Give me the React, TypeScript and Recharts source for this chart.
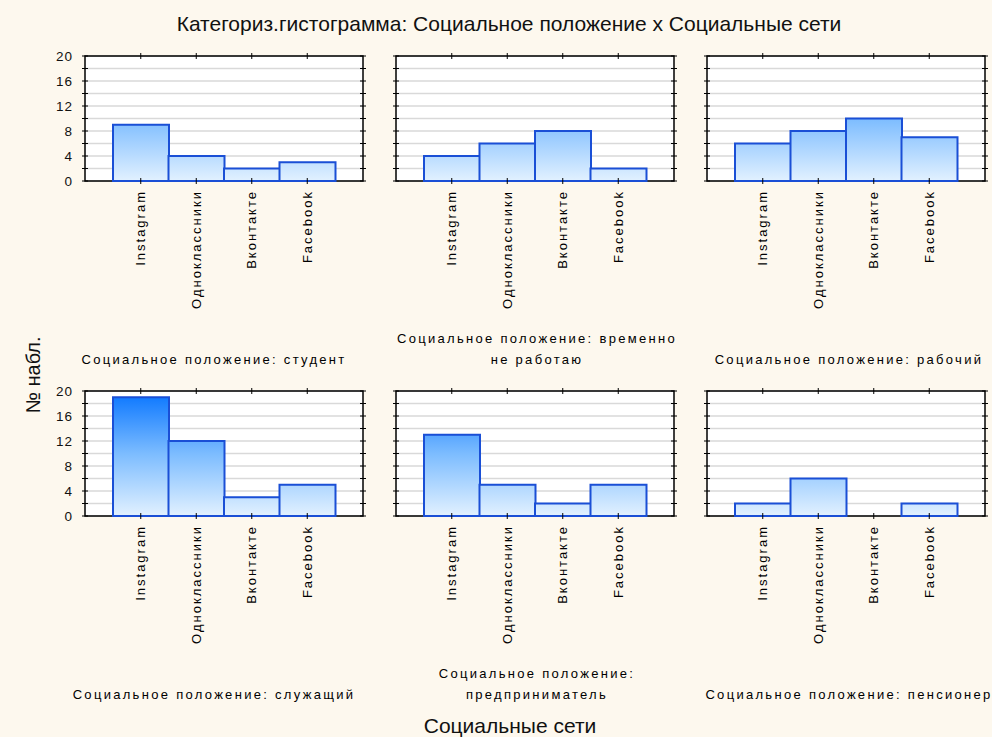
import React from "react"
import { BarChart, Bar, XAxis, YAxis, CartesianGrid } from "recharts"

const categories = ["Instagram", "Одноклассники", "Вконтакте", "Facebook"]
const yTicks = [0, 2, 4, 6, 8, 10, 12, 14, 16, 18, 20]

const studentCounts = [9, 4, 2, 3]
const unemployedCounts = [4, 6, 8, 2]
const workerCounts = [6, 8, 10, 7]
const employeeCounts = [19, 12, 3, 5]
const entrepreneurCounts = [13, 5, 2, 5]
const pensionerCounts = [2, 6, 0, 2]

const panelTitles = [
  ["Социальное положение: студент"],
  ["Социальное положение: временно", "не работаю"],
  ["Социальное положение: рабочий"],
  ["Социальное положение: служащий"],
  ["Социальное положение:", "предприниматель"],
  ["Социальное положение: пенсионер"],
]
const panelCounts = [
  studentCounts,
  unemployedCounts,
  workerCounts,
  employeeCounts,
  entrepreneurCounts,
  pensionerCounts,
]

// layout
const PLOT_W = 278
const PLOT_H = 125
const M_LEFT = 45
const M_TOP = 10
const CHART_W = M_LEFT + PLOT_W + 10
const CHART_H = M_TOP + PLOT_H + 150
const PLOT_LEFTS = [85, 396, 707]
const PLOT_TOPS = [56, 391]
const TITLE_CENTERS = [214, 537, 849]
const TITLE_BOTTOMS = [370, 705]

const BG = "#fdf8ee"
const SMALL_FONT = "'Liberation Sans', Arial, sans-serif"
const BIG_FONT = "'Liberation Sans Narrow', 'Liberation Sans', Arial, sans-serif"

// left axis tick: crosses both the left and the right frame line
const makeLeftTick = (showLabels: boolean) => (props: any) => {
  const { y, payload } = props
  const v = payload.value
  const xr = M_LEFT + PLOT_W
  return (
    <g>
      <line x1={M_LEFT - 3} x2={M_LEFT + 3} y1={y} y2={y} stroke="#000" strokeWidth={1} />
      <line x1={xr - 3} x2={xr + 3} y1={y} y2={y} stroke="#000" strokeWidth={1} />
      {showLabels && v % 4 === 0 && (
        <text
          x={M_LEFT - 12}
          y={y}
          dy="0.36em"
          textAnchor="end"
          fontSize={13.5}
          fontFamily={SMALL_FONT}
          letterSpacing={1}
          fill="#111"
        >
          {v}
        </text>
      )}
    </g>
  )
}

// bottom tick: mark on bottom and top frame lines plus a rotated label
const BottomTick = (props: any) => {
  const { x, payload } = props
  const yb = M_TOP + PLOT_H
  return (
    <g>
      <line x1={x} x2={x} y1={yb - 3} y2={yb + 3} stroke="#000" strokeWidth={1} />
      <line x1={x} x2={x} y1={M_TOP - 3} y2={M_TOP + 3} stroke="#000" strokeWidth={1} />
      <text
        transform={`translate(${x},${yb + 9}) rotate(-90)`}
        dy="0.36em"
        textAnchor="end"
        fontSize={13}
        fontFamily={SMALL_FONT}
        letterSpacing={2}
        fill="#000"
      >
        {payload.value}
      </text>
    </g>
  )
}

function Panel({ index, counts }: { index: number; counts: number[] }) {
  const data = categories.map((c, i) => ({ name: c, value: counts[i] }))
  const gid = `barGrad${index}`
  const LeftTick = makeLeftTick(index % 3 === 0)
  return (
    <BarChart
      width={CHART_W}
      height={CHART_H}
      data={data}
      barCategoryGap={0}
      margin={{ top: M_TOP, right: 10, left: 0, bottom: 0 }}
    >
      <defs>
        <linearGradient
          id={gid}
          gradientUnits="userSpaceOnUse"
          x1="0"
          y1={M_TOP}
          x2="0"
          y2={M_TOP + PLOT_H}
        >
          <stop offset="0%" stopColor="#0774ff" />
          <stop offset="50%" stopColor="#7cbcff" />
          <stop offset="100%" stopColor="#e2f1ff" />
        </linearGradient>
      </defs>
      <CartesianGrid vertical={false} stroke="#d9d9d9" strokeWidth={1.5} fill="#fff" />
      <XAxis
        dataKey="name"
        padding={{ left: 28, right: 28 }}
        height={150}
        interval={0}
        tickLine={false}
        axisLine={false}
        tick={<BottomTick />}
      />
      <YAxis
        domain={[0, 20]}
        ticks={yTicks}
        interval={0}
        width={M_LEFT}
        tickLine={false}
        axisLine={false}
        tick={<LeftTick />}
      />
      <Bar
        dataKey="value"
        fill={`url(#${gid})`}
        stroke="#1a4fd6"
        strokeWidth={2}
        isAnimationActive={false}
      />
      <rect
        x={M_LEFT}
        y={M_TOP}
        width={PLOT_W}
        height={PLOT_H}
        fill="none"
        stroke="#000"
        strokeWidth={1.5}
      />
    </BarChart>
  )
}

export default function App() {
  return (
    <div
      style={{
        position: "absolute",
        left: 0,
        top: 0,
        width: 992,
        height: 737,
        background: BG,
        fontFamily: SMALL_FONT,
        overflow: "hidden",
      }}
    >
      <div
        style={{
          position: "absolute",
          left: 509,
          top: 24,
          transform: "translate(-50%, -50%)",
          whiteSpace: "nowrap",
          fontFamily: BIG_FONT,
          fontSize: 21,
          color: "#111",
        }}
      >
        Категориз.гистограмма: Социальное положение x Социальные сети
      </div>
      <div
        style={{
          position: "absolute",
          left: 33,
          top: 375,
          transform: "translate(-50%, -50%) rotate(-90deg)",
          whiteSpace: "nowrap",
          fontFamily: BIG_FONT,
          fontSize: 20,
          color: "#111",
        }}
      >
        № набл.
      </div>
      <div
        style={{
          position: "absolute",
          left: 510,
          top: 726,
          transform: "translate(-50%, -50%)",
          whiteSpace: "nowrap",
          fontFamily: BIG_FONT,
          fontSize: 21,
          color: "#111",
        }}
      >
        Социальные сети
      </div>
      {panelCounts.map((counts, i) => {
        const col = i % 3
        const row = Math.floor(i / 3)
        return (
          <React.Fragment key={i}>
            <div
              style={{
                position: "absolute",
                left: PLOT_LEFTS[col] - M_LEFT,
                top: PLOT_TOPS[row] - M_TOP,
              }}
            >
              <Panel index={i} counts={counts} />
            </div>
            <div
              style={{
                position: "absolute",
                left: TITLE_CENTERS[col],
                top: TITLE_BOTTOMS[row],
                transform: "translate(-50%, -100%)",
                whiteSpace: "nowrap",
                textAlign: "center",
                fontSize: 13,
                lineHeight: "21px",
                letterSpacing: 2.3,
                color: "#000",
              }}
            >
              {panelTitles[i].map((line, k) => (
                <div key={k}>{line}</div>
              ))}
            </div>
          </React.Fragment>
        )
      })}
    </div>
  )
}
